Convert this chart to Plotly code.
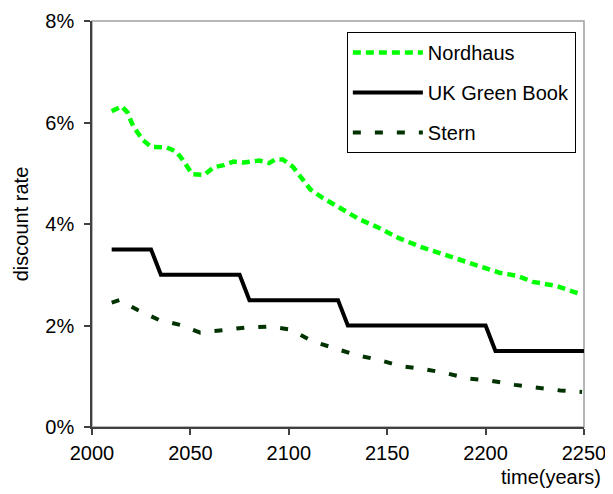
import plotly.graph_objects as go

# ---- data ----
nordhaus_years = [2010, 2015, 2018, 2021, 2026, 2030, 2038, 2043, 2046, 2051, 2057, 2062, 2067, 2072,
                  2077, 2080, 2085, 2090, 2093, 2097, 2102, 2106, 2111, 2117, 2125, 2136, 2146, 2156,
                  2167, 2177, 2187, 2197, 2207, 2216, 2224, 2236, 2245, 2248]
nordhaus_rates = [6.22, 6.32, 6.20, 5.92, 5.65, 5.52, 5.51, 5.42, 5.27, 4.98, 4.97, 5.12, 5.16, 5.23,
                  5.21, 5.23, 5.25, 5.20, 5.27, 5.27, 5.13, 4.93, 4.68, 4.52, 4.34, 4.09, 3.92, 3.72,
                  3.55, 3.42, 3.29, 3.17, 3.04, 2.98, 2.86, 2.78, 2.67, 2.62]

uk_years = [2010, 2030, 2035, 2075, 2080, 2125, 2130, 2200, 2205, 2250]
uk_rates = [3.5, 3.5, 3.0, 3.0, 2.5, 2.5, 2.0, 2.0, 1.5, 1.5]

stern_years = [2010, 2014, 2023, 2034, 2045, 2055, 2067, 2078, 2090, 2101, 2112, 2123, 2134, 2146,
               2157, 2169, 2180, 2192, 2203, 2215, 2227, 2238, 2249]
stern_rates = [2.45, 2.50, 2.31, 2.11, 2.01, 1.86, 1.91, 1.96, 1.98, 1.92, 1.69, 1.55, 1.42, 1.32,
               1.20, 1.14, 1.06, 0.95, 0.91, 0.83, 0.77, 0.72, 0.69]

x_ticks = [2000, 2050, 2100, 2150, 2200, 2250]
y_ticks = [0, 2, 4, 6, 8]
y_tick_labels = ["0%", "2%", "4%", "6%", "8%"]

FONT = "Liberation Sans, Arial, sans-serif"

fig = go.Figure()
fig.add_trace(go.Scatter(x=nordhaus_years, y=nordhaus_rates, mode="lines", name="Nordhaus",
                         legendgroup="a",
                         line=dict(color="#00FF00", width=4.5, dash="8px,5px")))
fig.add_trace(go.Scatter(x=uk_years, y=uk_rates, mode="lines", name="UK Green Book",
                         legendgroup="b",
                         line=dict(color="#000000", width=4)))
fig.add_trace(go.Scatter(x=stern_years, y=stern_rates, mode="lines", name="Stern",
                         legendgroup="c",
                         line=dict(color="#003300", width=4, dash="8px,14px")))

# the page body adds an 8px offset at the top-left, so the figure is 8px smaller on each axis
fig.update_layout(
    width=605, height=486,
    margin=dict(l=84, r=29, t=13, b=67),
    paper_bgcolor="white", plot_bgcolor="white",
    font=dict(family=FONT, size=20, color="black"),
    showlegend=True,
    legend=dict(x=0.518, y=0.973, xanchor="left", yanchor="top",
                bordercolor="black", borderwidth=1, bgcolor="white",
                font=dict(family=FONT, size=20, color="black"),
                itemwidth=70, tracegroupgap=11, traceorder="grouped"),
    shapes=[dict(type="rect", xref="paper", yref="paper", x0=0, x1=1, y0=0, y1=1,
                 line=dict(color="#A0A0A0", width=1.5), layer="below")],
    annotations=[dict(text="time(years)", xref="paper", yref="paper",
                      x=1.039, y=-0.123, xanchor="right", yanchor="middle",
                      showarrow=False, font=dict(family=FONT, size=20, color="black"))],
)

fig.update_xaxes(range=[2000, 2250], tickvals=x_ticks, showgrid=False, zeroline=False,
                 automargin=False,
                 showline=True, linecolor="#404040", linewidth=1.5,
                 ticks="outside", ticklen=6, tickcolor="#404040", tickwidth=1.5,
                 ticklabelstandoff=1,
                 tickfont=dict(family=FONT, size=20, color="black"))
fig.update_yaxes(range=[0, 8], tickvals=y_ticks, ticktext=y_tick_labels, showgrid=False,
                 zeroline=False, automargin=False,
                 showline=True, linecolor="#404040", linewidth=1.5,
                 ticks="outside", ticklen=6, tickcolor="#404040", tickwidth=1.5,
                 ticklabelstandoff=6,
                 tickfont=dict(family=FONT, size=20, color="black"),
                 title=dict(text="discount rate", font=dict(family=FONT, size=20, color="black"),
                            standoff=11))

fig.write_html("out.html")
